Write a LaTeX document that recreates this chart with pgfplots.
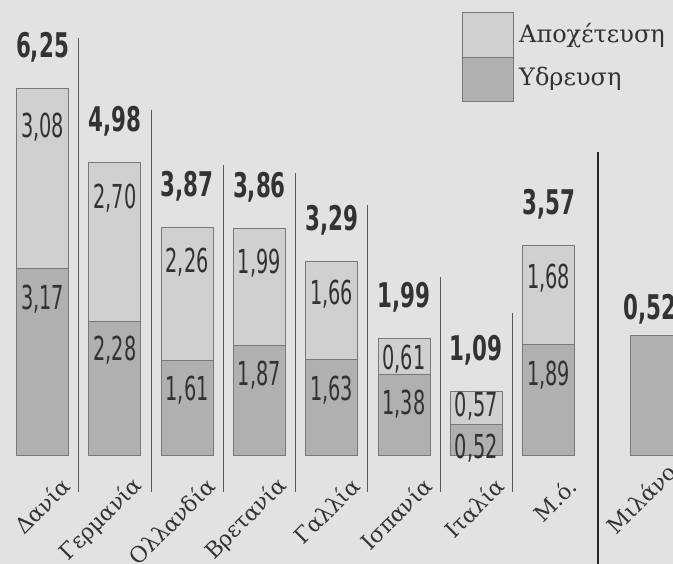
\documentclass[border=0pt]{standalone}
\usepackage{pgfplots}
\pgfplotsset{compat=1.18}
\usepackage{fontspec}
\setmainfont{DejaVu Serif}
\newfontfamily\serif{DejaVu Serif}
\newfontfamily\cond{DejaVu Sans Condensed}
\definecolor{bgcol}{RGB}{226,226,226}
\definecolor{apox}{RGB}{208,208,208}
\definecolor{ydr}{RGB}{176,176,176}
\definecolor{barline}{RGB}{120,120,120}
\definecolor{sep}{RGB}{90,90,90}
\definecolor{txt}{RGB}{50,50,50}

\pgfplotstableread{
x y off
0 3.17 16
1 2.28 14
2 1.61 15
3 1.87 15
4 1.63 16
5 1.38 16
6 0.52 9
7 1.89 17
}\ydreusi
\pgfplotstableread{
x y off
0 3.08 24
1 2.70 21
2 2.26 20
3 1.99 20
4 1.66 18
5 0.61 6
6 0.57 1
7 1.68 18
}\apoxeteusi
\pgfplotstableread{
x y
8.49 0.52
}\milano

\begin{document}
\begin{tikzpicture}
\useasboundingbox (0,0) rectangle (673pt,564pt);
\clip (0,0) rectangle (673pt,564pt);
\fill[bgcol] (0,0) rectangle (673pt,564pt);

\begin{axis}[
  at={(0pt,109pt)}, anchor=south west,
  scale only axis, width=673pt, height=455pt,
  xmin=-0.588, xmax=8.72, ymin=0, ymax=7.751,
  clip=false,
  axis line style={draw=none},
  tick style={draw=none},
  ytick=\empty,
  xtick={0,1,2,3,4,5,6,7},
  xticklabels={Δανία,Γερμανία,Ολλανδία,Βρετανία,Γαλλία,Ισπανία,Ιταλία,Μ.ό.},
  xticklabel style={font=\serif\fontsize{22}{22}\selectfont, text=txt,
    xshift=24pt, yshift=-27pt, rotate=45, anchor=east, inner sep=0pt},
  ybar stacked, bar width=52pt,
  /pgf/number format/assume math mode=true,
  point meta=explicit,
  nodes near coords={\scalebox{0.65}[1]{\pgfmathprintnumber[fixed,fixed zerofill,precision=2,use comma]{\pgfplotspointmeta}}},
  visualization depends on={\thisrow{y}*29.35-\thisrow{off} \as \shiftval},
  every node near coord/.append style={anchor=north, inner sep=0pt,
    yshift=\shiftval pt, font=\cond\fontsize{33}{33}\selectfont, text=txt},
]
\addplot[fill=ydr, draw=barline, line width=0.9pt] table[x=x, y=y, meta=y] {\ydreusi};
\addplot[fill=apox, draw=barline, line width=0.9pt] table[x=x, y=y, meta=y] {\apoxeteusi};

% separators
\draw[sep, line width=0.8pt] (axis cs:0.5,7.10) -- (axis cs:0.5,-0.63);
\draw[sep, line width=0.8pt] (axis cs:1.5,5.88) -- (axis cs:1.5,-0.63);
\draw[sep, line width=0.8pt] (axis cs:2.5,4.94) -- (axis cs:2.5,-0.63);
\draw[sep, line width=0.8pt] (axis cs:3.5,4.80) -- (axis cs:3.5,-0.63);
\draw[sep, line width=0.8pt] (axis cs:4.5,4.26) -- (axis cs:4.5,-0.63);
\draw[sep, line width=0.8pt] (axis cs:5.5,3.03) -- (axis cs:5.5,-0.63);
\draw[sep, line width=0.8pt] (axis cs:6.5,2.42) -- (axis cs:6.5,-0.63);
\draw[black!85, line width=2.5pt] (axis cs:7.683,5.16) -- (axis cs:7.683,-1.86);

% totals
\tikzset{tot/.style={anchor=base, inner sep=0pt, yshift=31pt, text=black!80,
  font=\cond\bfseries\fontsize{34}{34}\selectfont}}
\node[tot] at (axis cs:0,6.25) {\scalebox{0.7}[1]{6,25}};
\node[tot] at (axis cs:1,4.98) {\scalebox{0.7}[1]{4,98}};
\node[tot] at (axis cs:2,3.87) {\scalebox{0.7}[1]{3,87}};
\node[tot] at (axis cs:3,3.86) {\scalebox{0.7}[1]{3,86}};
\node[tot] at (axis cs:4,3.29) {\scalebox{0.7}[1]{3,29}};
\node[tot] at (axis cs:5,1.99) {\scalebox{0.7}[1]{1,99}};
\node[tot] at (axis cs:6,1.09) {\scalebox{0.7}[1]{1,09}};
\node[tot] at (axis cs:7,3.57) {\scalebox{0.7}[1]{3,57}};
\end{axis}

\begin{axis}[
  at={(0pt,109pt)}, anchor=south west,
  scale only axis, width=673pt, height=455pt,
  xmin=-0.588, xmax=8.72, ymin=0, ymax=1.987,
  clip=false,
  axis line style={draw=none},
  tick style={draw=none},
  ytick=\empty,
  xtick={8.49},
  xticklabels={Μιλάνο},
  xticklabel style={font=\serif\fontsize{22}{22}\selectfont, text=txt,
    xshift=16pt, yshift=-9pt, rotate=45, anchor=east, inner sep=0pt},
  ybar, bar width=52pt,
]
\addplot[fill=ydr, draw=barline, line width=0.9pt] table[x=x, y=y] {\milano};
\node[anchor=base, inner sep=0pt, yshift=16pt, text=black!80,
  font=\cond\bfseries\fontsize{34}{34}\selectfont] at (axis cs:8.40,0.52) {\scalebox{0.7}[1]{0,52}};
\end{axis}

% legend
\filldraw[fill=apox, draw=barline, line width=0.9pt] (462pt,507pt) rectangle (513pt,552pt);
\filldraw[fill=ydr, draw=barline, line width=0.9pt] (462pt,463pt) rectangle (513pt,507pt);
\node[anchor=west, inner sep=0pt, text=txt, font=\serif\fontsize{24}{24}\selectfont] at (519pt,528pt) {Αποχέτευση};
\node[anchor=west, inner sep=0pt, text=txt, font=\serif\fontsize{24}{24}\selectfont] at (519pt,485pt) {Υδρευση};
\end{tikzpicture}
\end{document}
